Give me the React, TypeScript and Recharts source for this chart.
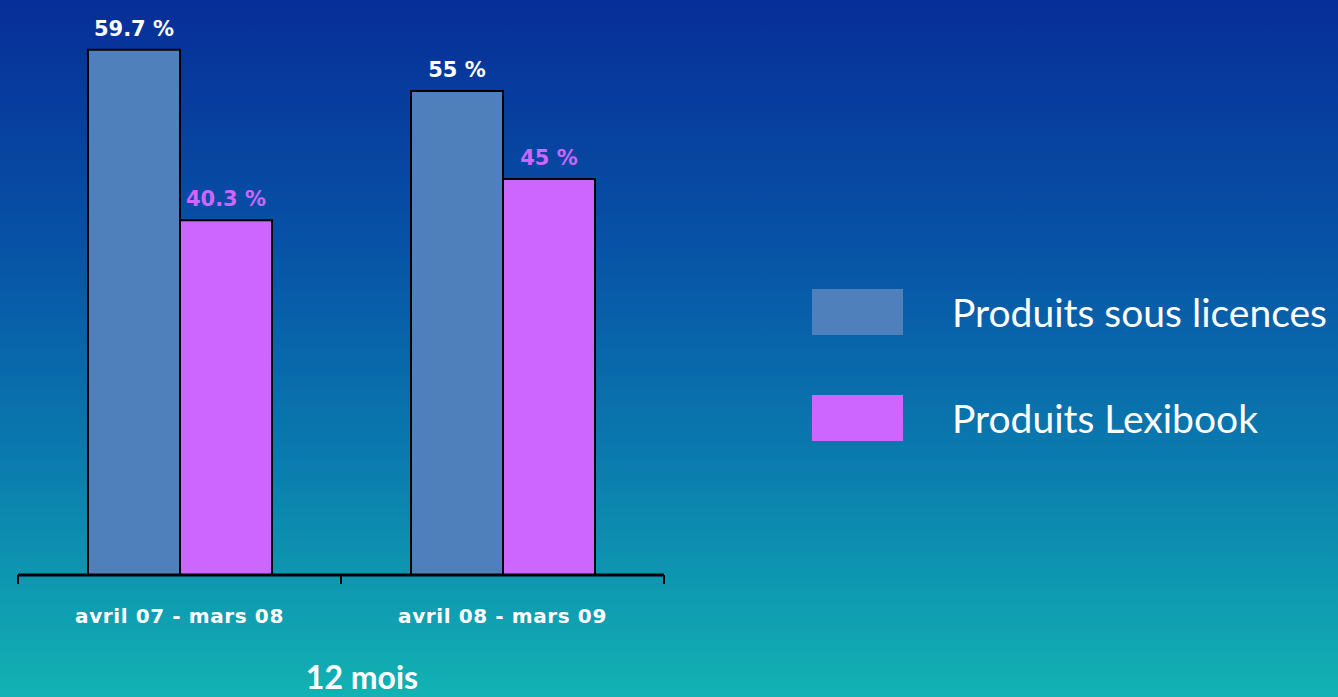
import React from 'react'
import {
  BarChart,
  Bar,
  XAxis,
  YAxis,
  Legend,
  LabelList,
  Label
} from 'recharts';

const periods = ['avril 07 - mars 08', 'avril 08 - mars 09'];
const licences = [59.7, 55];
const lexibook = [40.3, 45];
const seriesNames = ['Produits sous licences', 'Produits Lexibook'];
const seriesColors = ['#5080bc', '#cc66ff'];

const data = periods.map((p, i) => ({
  periode: p,
  licences: licences[i],
  lexibook: lexibook[i]
}));

const labelFont = '"DejaVu Sans", sans-serif';
const textFont = 'Lato, "Open Sans", sans-serif';

const PeriodTick = (props: any) => {
  const { x, y, payload, width, visibleTicksCount } = props;
  const band = width / (visibleTicksCount || 2);
  return (
    <g>
      <line x1={x - band / 2} y1={y - 8} x2={x - band / 2} y2={y + 1} stroke="#000" strokeWidth={2} />
      <line x1={x + band / 2} y1={y - 8} x2={x + band / 2} y2={y + 1} stroke="#000" strokeWidth={2} />
      <text
        x={x}
        y={y + 40}
        textAnchor="middle"
        fill="#fff"
        fontFamily={labelFont}
        fontWeight="bold"
        fontSize={20}
        letterSpacing={0.6}
      >
        {payload.value}
      </text>
    </g>
  );
};

const SideLegend = () => (
  <div>
    {seriesNames.map((name, i) => (
      <div key={name} style={{ display: 'flex', alignItems: 'center', height: 46, marginBottom: 60 }}>
        <div style={{ width: 91, height: 46, background: seriesColors[i] }} />
        <span
          style={{
            marginLeft: 49,
            color: '#fff',
            fontFamily: textFont,
            fontSize: 39,
            lineHeight: '46px',
            whiteSpace: 'nowrap'
          }}
        >
          {name}
        </span>
      </div>
    ))}
  </div>
);

export default function App() {
  return (
    <div
      style={{
        position: 'absolute',
        left: 0,
        top: 0,
        width: 1338,
        height: 697,
        overflow: 'hidden',
        background: 'linear-gradient(to bottom, #072e98 0%, #0752a6 35%, #0a7aae 65%, #12b2b3 100%)'
      }}
    >
      <BarChart
        width={1338}
        height={697}
        data={data}
        margin={{ top: 47, right: 674, bottom: 62, left: 18 }}
        barGap={0}
        barSize={92}
      >
        <XAxis
          dataKey="periode"
          height={60}
          axisLine={{ stroke: '#000', strokeWidth: 3 }}
          tickLine={false}
          tick={<PeriodTick />}
          interval={0}
        >
          <Label
            value="12 mois"
            position="bottom"
            offset={31}
            dx={21}
            fill="#fff"
            fontFamily={textFont}
            fontWeight="bold"
            fontSize={32}
          />
        </XAxis>
        <YAxis hide domain={[0, 60]} />
        <Legend
          layout="vertical"
          align="center"
          verticalAlign="middle"
          wrapperStyle={{ left: 812, top: 289, width: 526 }}
          content={<SideLegend />}
        />
        <Bar dataKey="licences" name={seriesNames[0]} fill={seriesColors[0]} stroke="#000" strokeWidth={2} isAnimationActive={false}>
          <LabelList
            dataKey="licences"
            position="top"
            offset={14}
            formatter={(v: any) => `${v} %`}
            fill="#fff"
            fontFamily={labelFont}
            fontWeight="bold"
            fontSize={21}
          />
        </Bar>
        <Bar dataKey="lexibook" name={seriesNames[1]} fill={seriesColors[1]} stroke="#000" strokeWidth={2} isAnimationActive={false}>
          <LabelList
            dataKey="lexibook"
            position="top"
            offset={14}
            formatter={(v: any) => `${v} %`}
            fill="#cc66ff"
            fontFamily={labelFont}
            fontWeight="bold"
            fontSize={21}
          />
        </Bar>
      </BarChart>
    </div>
  );
}
